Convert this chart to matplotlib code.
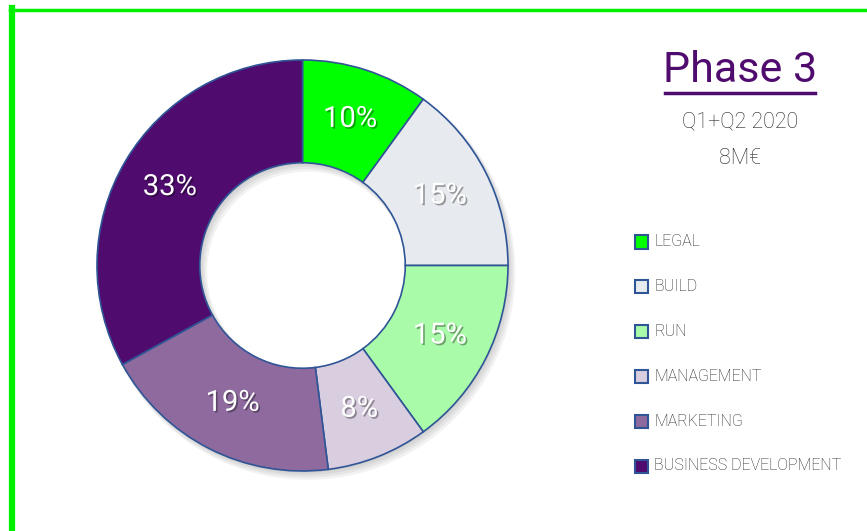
import matplotlib.pyplot as plt
import matplotlib.patheffects as pe
from matplotlib.patches import Rectangle
from matplotlib.lines import Line2D

# budget split for phase 3
labels = ["LEGAL", "BUILD", "RUN", "MANAGEMENT", "MARKETING", "BUSINESS DEVELOPMENT"]
shares = [10, 15, 15, 8, 19, 33]
colors = ["#00FF00", "#E7EAEE", "#A9FBA9", "#D9CDE0", "#8E6A9E", "#4F0C6E"]

title = "Phase 3"
period = "Q1+Q2 2020"
budget = "8M€"

FONT = dict(family=["Roboto", "DejaVu Sans"])
TXT = "#262626"

fig = plt.figure(figsize=(8.67, 5.31), dpi=100)
W, H = 867, 531

# green frame on the top and left side
fig.add_artist(Line2D([10 / W, 1], [1 - 9.5 / H, 1 - 9.5 / H], color="#00F000", lw=2.5))
fig.add_artist(Line2D([12 / W, 12 / W], [0, 1 - 8 / H], color="#00F000", lw=4.5))

R = 205.5
cx, cy = 302.5, 531 - 265.5
side = 2.2 * R
ax = fig.add_axes([(cx - side / 2) / W, (cy - side / 2) / H, side / W, side / H])
ax.set_xlim(-1.1, 1.1)
ax.set_ylim(-1.1, 1.1)
ax.set_aspect("equal")
ax.axis("off")

# soft shadow under the ring
for k in range(4):
    off = 0.006 * (k + 1)
    ax.pie([1], radius=1.0 + 0.004 * k, center=(off, -off * 1.3), colors=["black"],
           wedgeprops=dict(width=0.5 + 0.008 * k, alpha=0.05, linewidth=0))

wedges, texts, autotexts = ax.pie(
    shares, colors=colors, startangle=90, counterclock=False, radius=1.0,
    autopct="%d%%", pctdistance=0.75,
    wedgeprops=dict(width=0.5, edgecolor="#2F5597", linewidth=1.2),
)
ax.set_xlim(-1.1, 1.1)
ax.set_ylim(-1.1, 1.1)
for t in autotexts:
    t.set_color("white")
    t.set_fontsize(21)
    t.set(**FONT)
    t.set_path_effects([pe.withSimplePatchShadow(offset=(1.2, -1.2), shadow_rgbFace="black", alpha=0.35)])

# title block
fig.text(740 / W, 1 - 70 / H, title, ha="center", va="center", color="#4F0C6E", fontsize=31, **FONT)
fig.add_artist(Line2D([665 / W, 815 / W], [1 - 93 / H, 1 - 93 / H], color="#4F0C6E", lw=2.5))
fig.text(740 / W, 1 - 122 / H, period, ha="center", va="center", color=TXT,
         fontsize=15.5, weight="light", **FONT)
fig.text(740 / W, 1 - 158 / H, budget, ha="center", va="center", color=TXT,
         fontsize=15.5, weight="light", **FONT)

# legend
y0, dy = 242, 44.8
for i, (lab, col) in enumerate(zip(labels, colors)):
    y = y0 + i * dy
    fig.add_artist(Rectangle((635 / W, 1 - (y + 6.5) / H), 13 / W, 13 / H,
                             facecolor=col, edgecolor="#2F5597", lw=1.5, transform=fig.transFigure))
    fig.text(654 / W, 1 - y / H, lab, ha="left", va="center", color=TXT,
             fontsize=11.5, weight="light", **FONT)

fig.savefig("out.png", dpi=100)
